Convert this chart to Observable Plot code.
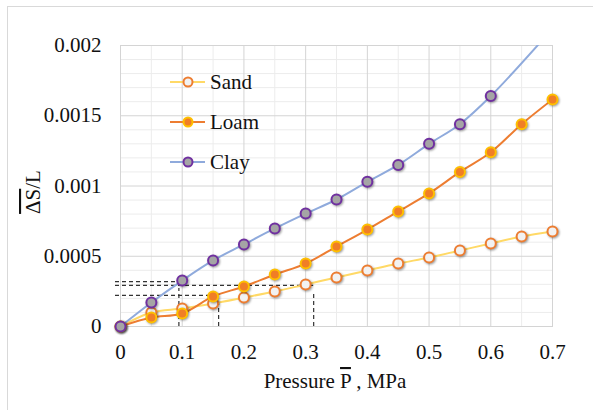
<!DOCTYPE html>
<html><head><meta charset="utf-8">
<script src="https://cdn.jsdelivr.net/npm/d3@7"></script>
<script src="https://cdn.jsdelivr.net/npm/@observablehq/plot@0.6"></script>
<style>
body{margin:0;background:#fff;}
#chart{width:593px;height:410px;}
svg, svg text{font-family:"Liberation Serif","Times New Roman",serif !important;}
g[aria-label="dot"] circle{filter:drop-shadow(1px 1.5px 1.2px rgba(0,0,0,0.4));}
</style></head><body><div id="chart"></div>
<script>
// ---- data ----
const pressure = [0,0.05,0.1,0.15,0.2,0.25,0.3,0.35,0.4,0.45,0.5,0.55,0.6,0.65,0.7];
const sand = [0,0.0001,0.000128,0.000164,0.000206,0.000249,0.000299,0.000349,0.000399,0.000448,0.000491,0.000541,0.000591,0.00064,0.000676];
const loam = [0,0.000064,0.000093,0.000214,0.000285,0.00037,0.000448,0.000569,0.00069,0.000819,0.000947,0.0011,0.00124,0.00144,0.001616];
const clayPressure = [0,0.05,0.1,0.15,0.2,0.25,0.3,0.35,0.4,0.45,0.5,0.55,0.6,0.7];
const clay = [0,0.000171,0.000327,0.00047,0.000584,0.000698,0.000804,0.000904,0.00103,0.00115,0.0013,0.00144,0.00164,0.00212];
const seriesNames = ["Sand","Loam","Clay"];
const xTicks = [0,0.1,0.2,0.3,0.4,0.5,0.6,0.7];
const xTickLabels = ["0","0.1","0.2","0.3","0.4","0.5","0.6","0.7"];
const yTicks = [0,0.0005,0.001,0.0015,0.002];
const yTickLabels = ["0","0.0005","0.001","0.0015","0.002"];
const xMinor = [0.05,0.15,0.25,0.35,0.45,0.55,0.65];
const yMinor = [0.0001,0.0002,0.0003,0.0004,0.0006,0.0007,0.0008,0.0009,0.0011,0.0012,0.0013,0.0014,0.0016,0.0017,0.0018,0.0019];
// reference (dashed) readings
const refP = [0.0946,0.159,0.313];
const refS = [0.00032,0.000221,0.000292];

// ---- styles ----
const styles = {
  Sand:{line:"#FFD966", fill:"#F2F2F2", stroke:"#ED7D31"},
  Loam:{line:"#ED7D31", fill:"#F07E26", stroke:"#FFC000"},
  Clay:{line:"#8FAADC", fill:"#A5A5A5", stroke:"#7030A0"}
};
const FONT = '"Liberation Serif","Times New Roman",serif';

const seriesX = {Sand:pressure, Loam:pressure, Clay:clayPressure};
const seriesY = {Sand:sand, Loam:loam, Clay:clay};
const rows = seriesNames.flatMap(s => seriesX[s].map((x,i)=>({series:s, x, y:seriesY[s][i]})));
const refs = refP.map((p,i)=>({x:p, y:refS[i]}));
const yMax = yTicks[yTicks.length-1];

const marks = [
  Plot.ruleX(xMinor,{stroke:"#ececec"}),
  Plot.ruleY(yMinor,{stroke:"#ececec"}),
  Plot.ruleX(xTicks,{stroke:"#d4d4d4"}),
  Plot.ruleY(yTicks,{stroke:"#d4d4d4"}),
  Plot.frame({stroke:"#d4d4d4"}),
  Plot.ruleY(refs,{y:"y", x1:d=>0, x2:"x", insetLeft:-5, stroke:"#333", strokeWidth:1.2, strokeDasharray:"4,3"}),
  Plot.ruleX(refs,{x:"x", y1:d=>0, y2:"y", insetBottom:-7, stroke:"#333", strokeWidth:1.2, strokeDasharray:"4,3"})
];
for (const s of seriesNames) {
  marks.push(Plot.line(rows.filter(d=>d.series===s),{x:"x", y:"y", stroke:styles[s].line, strokeWidth:2, curve:"catmull-rom", clip:true}));
}
for (const s of seriesNames) {
  marks.push(Plot.dot(rows.filter(d=>d.series===s && d.y<=yMax),{x:"x", y:"y", r:5, fill:styles[s].fill, stroke:styles[s].stroke, strokeWidth:2}));
}

const plot = Plot.plot({
  width:593, height:410,
  marginLeft:120, marginRight:41, marginTop:45, marginBottom:84,
  style:{fontSize:"21px", color:"#111", background:"#fff"},
  x:{domain:[0,0.7], ticks:xTicks, tickFormat:d=>xTickLabels[xTicks.indexOf(d)], tickSize:0, tickPadding:18, label:null},
  y:{domain:[0,yMax], ticks:yTicks, tickFormat:d=>yTickLabels[yTicks.indexOf(d)], tickSize:0, tickPadding:19, label:null},
  marks
});
document.getElementById("chart").appendChild(plot);

const svg = d3.select(plot);
svg.insert("rect",":first-child").attr("x",7.5).attr("y",6.5).attr("width",700).attr("height",600)
  .attr("fill","none").attr("stroke","#d9d9d9");

// axis titles
const yl = svg.append("text").attr("transform","translate(40,192) rotate(-90)").attr("text-anchor","middle")
  .attr("font-size",21).attr("fill","#111");
yl.append("tspan").style("text-decoration","overline").text("ΔS");
yl.append("tspan").text("/L");
const xl = svg.append("text").attr("x",335).attr("y",388).attr("text-anchor","middle").attr("font-size",21).attr("fill","#111");
xl.append("tspan").text("Pressure ");
xl.append("tspan").style("text-decoration","overline").text("P");
xl.append("tspan").text(" , MPa");

// legend
seriesNames.forEach((s,i)=>{
  const y = 82 + i*40;
  const g = svg.append("g");
  g.append("line").attr("x1",170).attr("x2",205).attr("y1",y).attr("y2",y).attr("stroke",styles[s].line).attr("stroke-width",2);
  g.append("circle").attr("cx",188).attr("cy",y).attr("r",4.5).attr("fill",styles[s].fill).attr("stroke",styles[s].stroke).attr("stroke-width",2);
  g.append("text").attr("x",210).attr("y",y+7).attr("text-anchor","start").attr("font-size",21).attr("fill","#111").text(s);
});
svg.selectAll("text").style("font-family", FONT);
</script></body></html>
